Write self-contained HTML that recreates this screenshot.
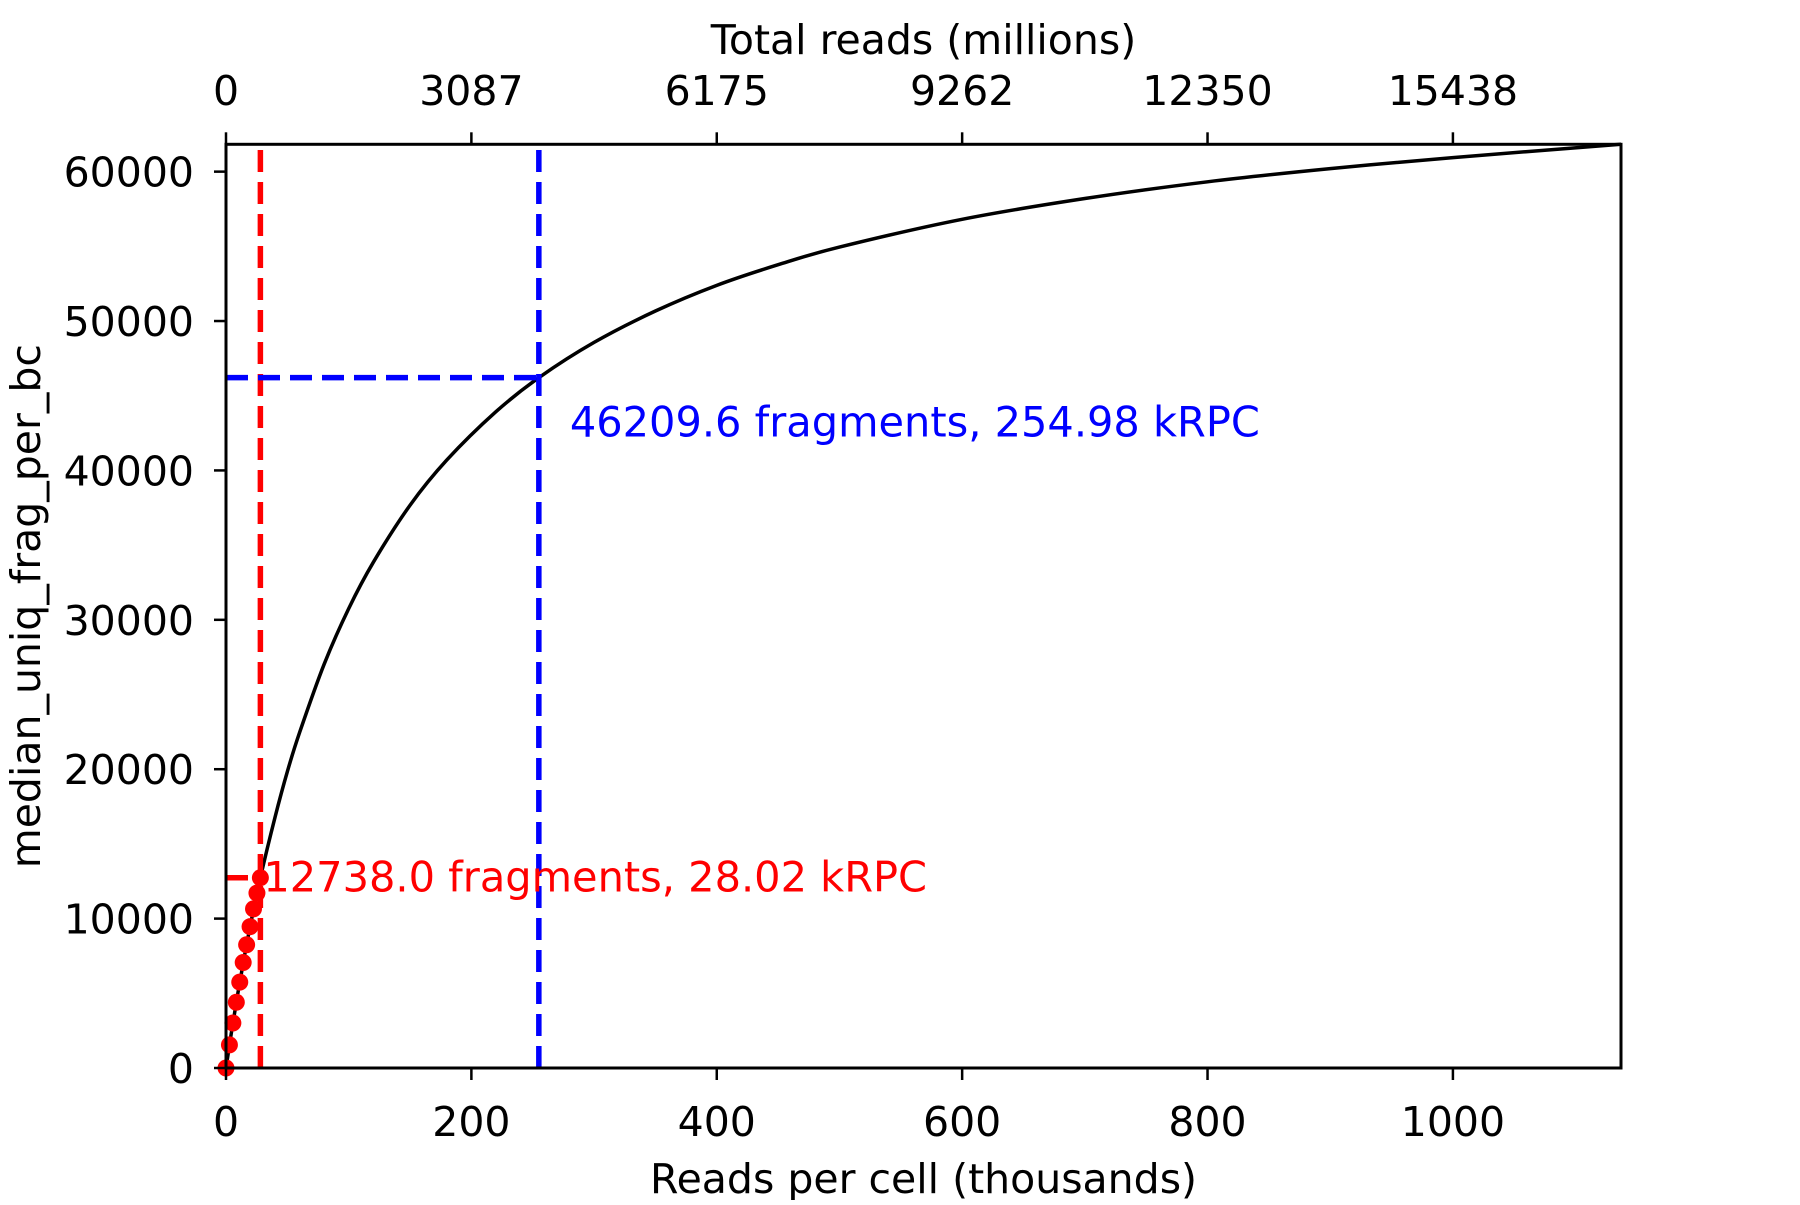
<!DOCTYPE html>
<html><head><meta charset="utf-8"><style>
html,body{margin:0;padding:0;background:#fff}
svg text{font-family:"DejaVu Sans","Liberation Sans",sans-serif}
</style></head><body>
<svg id="chart" width="1800" height="1200" viewBox="0 0 1800 1200" xmlns="http://www.w3.org/2000/svg">
<g id="plot"></g>
</svg>
<script>
const curveX = [0, 5, 10, 15, 20, 28.02, 40, 50, 60, 80, 100, 120, 150, 180, 220, 254.98, 300, 350, 400, 450, 500, 600, 700, 800, 900, 1000, 1137];
const curveY = [0, 2684, 5167, 7470, 9603, 12738, 16800, 19840, 22460, 27030, 30750, 33840, 37670, 40700, 43930, 46209.6, 48570, 50670, 52390, 53770, 54950, 56810, 58200, 59320, 60200, 60940, 61830];
const dotX = [0, 2.8, 5.6, 8.41, 11.21, 14.01, 16.81, 19.61, 22.42, 25.22, 28.02];
const dotY = [0, 1550, 3010, 4400, 5750, 7060, 8250, 9460, 10650, 11710, 12738];
const xTicks = [0, 200, 400, 600, 800, 1000];
const topTickLabels = ["0", "3087", "6175", "9262", "12350", "15438"];
const yTicks = [0, 10000, 20000, 30000, 40000, 50000, 60000];
const redMark = [28.02, 12738.0];
const blueMark = [254.98, 46209.6];
const xMax = 1137, yMax = 61830;

const L = 226, R = 1621, T = 144.3, B = 1068;
const sx = v => L + v / xMax * (R - L);
const sy = v => B - v / yMax * (B - T);
const NS = "http://www.w3.org/2000/svg";
const g = document.getElementById("plot");
function mk(tag, attrs, text) {
  const e = document.createElementNS(NS, tag);
  for (const k in attrs) e.setAttribute(k, attrs[k]);
  if (text !== undefined) e.textContent = text;
  g.appendChild(e);
  return e;
}
let e;
const P = curveX.map((x, i) => [sx(x), sy(curveY[i])]);
let d = "M" + P[0][0].toFixed(2) + "," + P[0][1].toFixed(2);
for (let i = 0; i < P.length - 1; i++) {
  const p0 = P[Math.max(0, i - 1)], p1 = P[i], p2 = P[i + 1], p3 = P[Math.min(P.length - 1, i + 2)];
  const c1 = [p1[0] + (p2[0] - p0[0]) / 6, p1[1] + (p2[1] - p0[1]) / 6];
  const c2 = [p2[0] - (p3[0] - p1[0]) / 6, p2[1] - (p3[1] - p1[1]) / 6];
  d += " C" + c1[0].toFixed(2) + "," + c1[1].toFixed(2) + " " + c2[0].toFixed(2) + "," + c2[1].toFixed(2) + " " + p2[0].toFixed(2) + "," + p2[1].toFixed(2);
}
e = mk("path", {d: d, fill: "none", stroke: "#000", "stroke-width": 3.5, "stroke-linejoin": "round"});


dotX.forEach((x, i) => {
  e = mk("circle", {cx: sx(x), cy: sy(dotY[i]), r: 8.5, fill: "#ff0000"});
  
  
});
e = mk("line", {x1: sx(redMark[0]), x2: sx(redMark[0]), y1: B, y2: T, stroke: "#ff0000", "stroke-width": 5.5, "stroke-dasharray": "22,10"});


e = mk("line", {x1: L, x2: sx(redMark[0]), y1: sy(redMark[1]), y2: sy(redMark[1]), stroke: "#ff0000", "stroke-width": 5.5, "stroke-dasharray": "22,10"});


e = mk("line", {x1: sx(blueMark[0]), x2: sx(blueMark[0]), y1: B, y2: T, stroke: "#0000ff", "stroke-width": 5.5, "stroke-dasharray": "22,10"});


e = mk("line", {x1: L, x2: sx(blueMark[0]), y1: sy(blueMark[1]), y2: sy(blueMark[1]), stroke: "#0000ff", "stroke-width": 5.5, "stroke-dasharray": "22,10"});


e = mk("text", {x: sx(redMark[0]) + 3, y: sy(redMark[1]) + 14, fill: "#ff0000", "font-size": 41.5}, redMark[1].toFixed(1) + " fragments, " + redMark[0].toFixed(2) + " kRPC");


e = mk("text", {x: sx(blueMark[0]) + 31, y: sy(blueMark[1]) + 59, fill: "#0000ff", "font-size": 41.5}, blueMark[1].toFixed(1) + " fragments, " + blueMark[0].toFixed(2) + " kRPC");


e = mk("rect", {x: L, y: T, width: R - L, height: B - T, fill: "none", stroke: "#000", "stroke-width": 3});


xTicks.forEach((v, i) => {
  e = mk("line", {x1: sx(v), x2: sx(v), y1: B, y2: B + 12, stroke: "#000", "stroke-width": 2.5});
  
  
  e = mk("text", {x: sx(v), y: 1136, "text-anchor": "middle", "font-size": 41}, String(v));
  
  
  e = mk("line", {x1: sx(v), x2: sx(v), y1: T, y2: T - 12, stroke: "#000", "stroke-width": 2.5});
  
  
  e = mk("text", {x: sx(v), y: 105, "text-anchor": "middle", "font-size": 41}, topTickLabels[i]);
  
  
});
yTicks.forEach(v => {
  e = mk("line", {x1: L, x2: L - 12, y1: sy(v), y2: sy(v), stroke: "#000", "stroke-width": 2.5});
  
  
  e = mk("text", {x: 194, y: sy(v) + 15, "text-anchor": "end", "font-size": 41}, String(v));
  
  
});
e = mk("text", {x: (L + R) / 2, y: 1193, "text-anchor": "middle", "font-size": 41}, "Reads per cell (thousands)");


e = mk("text", {x: (L + R) / 2, y: 54, "text-anchor": "middle", "font-size": 41}, "Total reads (millions)");


e = mk("text", {x: 0, y: 0, "text-anchor": "middle", "font-size": 41, transform: "translate(40," + ((T + B) / 2) + ") rotate(-90)"}, "median_uniq_frag_per_bc");


</script>
</body></html>
